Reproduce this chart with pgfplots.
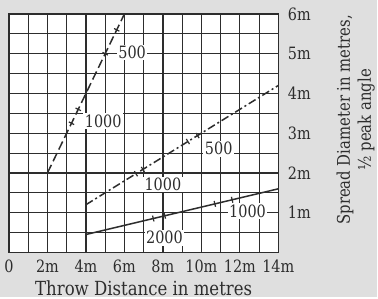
\documentclass[border=0pt]{standalone}
\usepackage{pgfplots}
\pgfplotsset{compat=1.18}
\usepackage{fontspec}
\setmainfont{DejaVu Serif}[FakeStretch=0.85]
\definecolor{bggray}{RGB}{223,223,223}
\definecolor{ink}{RGB}{45,45,45}
\begin{document}
\begin{tikzpicture}
\fill[bggray] (-9pt,-45pt) rectangle (369pt,253pt);
\begin{axis}[
  scale only axis, width=270pt, height=239pt,
  xmin=0, xmax=14, ymin=0, ymax=6,
  xtick={0,2,...,14}, xticklabels={0,2m,4m,6m,8m,10m,12m,14m},
  ytick={1,2,3,4,5,6}, yticklabels={1m,2m,3m,4m,5m,6m},
  minor xtick={1,3,...,13}, minor ytick={0.5,1.5,...,5.5},
  grid=both,
  major grid style={line width=1.3pt, ink},
  minor grid style={line width=0.7pt, ink},
  axis line style={line width=1.5pt, ink},
  tick style={draw=none},
  yticklabel pos=right,
  axis background/.style={fill=white},
  font=\fontsize{17}{21}\selectfont,
  tick label style={font=\fontsize{17}{21}\selectfont, text=ink},
  xticklabel style={yshift=-4pt},
  yticklabel style={xshift=6pt},
  xlabel={Throw Distance in metres},
  xlabel style={font=\fontsize{19.5}{22}\selectfont, at={(axis description cs:0.5,0)}, anchor=base, yshift=-43pt, text=ink},
  ylabel={Spread Diameter in metres,\\½ peak angle},
  ylabel style={font=\fontsize{17.5}{21}\selectfont, at={(axis description cs:1.287,0.556)}, anchor=center, align=center, text=ink},
  clip=false,
]
% dashed line
\addplot[ink, line width=1.5pt, dash pattern=on 9pt off 4pt] coordinates {(2,2) (6,6)};
% dash-dot line
\addplot[ink, line width=1.5pt, dash pattern=on 8pt off 3pt on 2pt off 3pt] coordinates {(4,1.2) (14,4.2)};
% solid line
\addplot[ink, line width=1.5pt] coordinates {(4,0.45) (14,1.6)};
% tick marks on dashed
\addplot[ink, line width=1.2pt] coordinates {(3.11,3.283) (3.39,3.217)};
\addplot[ink, line width=1.2pt] coordinates {(3.46,3.633) (3.74,3.567)};
\addplot[ink, line width=1.2pt] coordinates {(4.86,5.033) (5.14,4.967)};
\addplot[ink, line width=1.2pt] coordinates {(5.46,5.633) (5.74,5.567)};
% tick marks on dash-dot
\addplot[ink, line width=1.2pt] coordinates {(6.518,2.044) (6.682,1.916)};
\addplot[ink, line width=1.2pt] coordinates {(6.878,2.152) (7.042,2.024)};
\addplot[ink, line width=1.2pt] coordinates {(9.218,2.854) (9.382,2.726)};
\addplot[ink, line width=1.2pt] coordinates {(9.718,3.004) (9.882,2.876)};
% tick marks on solid
\addplot[ink, line width=1.2pt] coordinates {(7.464,0.926) (7.536,0.780)};
\addplot[ink, line width=1.2pt] coordinates {(8.064,0.995) (8.136,0.849)};
\addplot[ink, line width=1.2pt] coordinates {(10.664,1.294) (10.736,1.148)};
\addplot[ink, line width=1.2pt] coordinates {(11.564,1.397) (11.636,1.251)};
% labels
\node[fill=white, inner sep=1.5pt, text=ink] at (axis cs:6.4,5.03) {500};
\node[fill=white, inner sep=1.5pt, text=ink] at (axis cs:4.9,3.3) {1000};
\node[fill=white, inner sep=1.5pt, text=ink] at (axis cs:10.9,2.61) {500};
\node[fill=white, inner sep=1.5pt, text=ink] at (axis cs:8.0,1.71) {1000};
\node[fill=white, inner sep=1.5pt, text=ink] at (axis cs:8.08,0.37) {2000};
\node[fill=white, inner sep=1.5pt, text=ink] at (axis cs:12.4,1.04) {1000};
\end{axis}
\end{tikzpicture}
\end{document}
